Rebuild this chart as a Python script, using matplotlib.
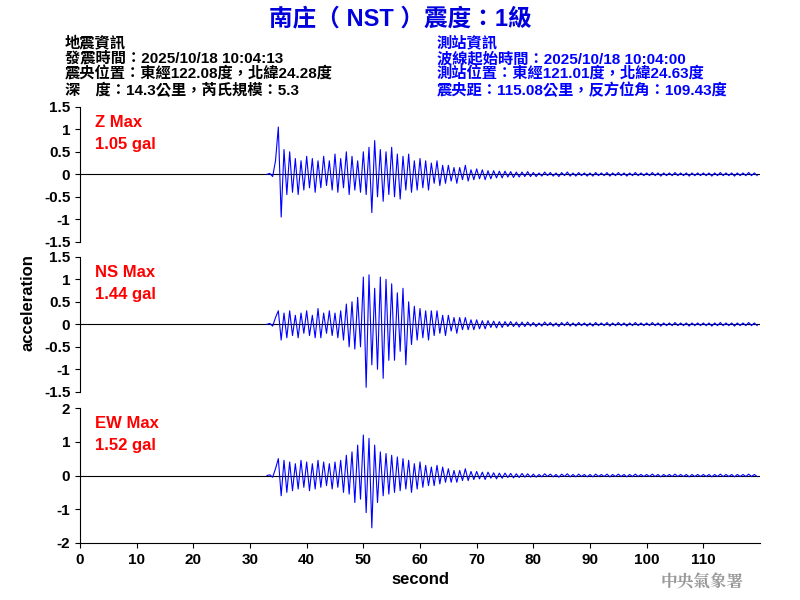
import numpy as np
import matplotlib
matplotlib.use("Agg")
import matplotlib.pyplot as plt

plt.rcParams['font.family'] = ['Liberation Sans', 'Noto Sans CJK TC', 'DejaVu Sans']
plt.rcParams['font.weight'] = 'bold'
plt.rcParams['axes.labelweight'] = 'bold'

t_start = 33.0
step = 0.5

z_active = [0, 0.02, -0.05, 0.3,
            1.05, -0.95, 0.55, -0.45, 0.5, -0.4, 0.35, -0.45, 0.3, -0.35,
            0.4, -0.3, 0.35, -0.4, 0.3, -0.3, 0.4, -0.25, 0.3, -0.35,
            0.45, -0.4, 0.35, -0.3, 0.5, -0.45, 0.4, -0.35, 0.3, -0.4,
            0.5, -0.45, 0.6, -0.85, 0.75, -0.5, 0.55, -0.6, 0.5, -0.45,
            0.6, -0.5, 0.45, -0.55, 0.4, -0.35, 0.45, -0.4, 0.3, -0.35,
            0.35, -0.3, 0.3, -0.35, 0.25, -0.2, 0.3, -0.25, 0.2, -0.2,
            0.2, -0.15, 0.15, -0.2, 0.15, -0.12, 0.2, -0.15, 0.1, -0.12,
            0.12, -0.1, 0.1, -0.12, 0.08, -0.1, 0.08, -0.08, 0.07, -0.08,
            0.07, -0.06, 0.06, -0.07, 0.05, -0.06, 0.05, -0.05, 0.06, -0.05]

ns_active = [0, 0.02, -0.04, 0.15,
             0.3, -0.35, 0.25, -0.3, 0.3, -0.25, 0.2, -0.3, 0.25, -0.2,
             0.3, -0.25, 0.2, -0.3, 0.35, -0.3, 0.25, -0.2, 0.3, -0.25,
             0.25, -0.3, 0.3, -0.35, 0.45, -0.5, 0.5, -0.55, 0.6, -0.5,
             1.05, -1.4, 1.1, -0.9, 0.8, -1.0, 1.05, -1.2, 1.0, -0.8,
             0.9, -0.8, 0.7, -0.6, 0.8, -0.9, 0.5, -0.45, 0.4, -0.35,
             0.35, -0.3, 0.3, -0.35, 0.3, -0.25, 0.3, -0.2, 0.2, -0.25,
             0.2, -0.15, 0.15, -0.2, 0.15, -0.12, 0.15, -0.12, 0.1, -0.12,
             0.1, -0.1, 0.08, -0.1, 0.08, -0.07, 0.07, -0.08, 0.06, -0.07,
             0.06, -0.05, 0.06, -0.05, 0.05, -0.06, 0.05, -0.05, 0.05, -0.04]

ew_active = [0, 0.02, -0.05, 0.2,
             0.5, -0.6, 0.45, -0.5, 0.4, -0.45, 0.35, -0.4, 0.45, -0.35,
             0.4, -0.45, 0.35, -0.4, 0.45, -0.35, 0.4, -0.3, 0.35, -0.4,
             0.4, -0.35, 0.45, -0.5, 0.6, -0.55, 0.7, -0.8, 0.9, -0.7,
             1.2, -1.1, 1.1, -1.55, 0.9, -0.8, 0.7, -0.6, 0.65, -0.55,
             0.6, -0.5, 0.55, -0.45, 0.5, -0.4, 0.45, -0.5, 0.35, -0.4,
             0.4, -0.35, 0.3, -0.3, 0.25, -0.3, 0.3, -0.25, 0.25, -0.2,
             0.2, -0.2, 0.15, -0.2, 0.15, -0.15, 0.2, -0.15, 0.12, -0.12,
             0.12, -0.1, 0.1, -0.12, 0.1, -0.08, 0.08, -0.1, 0.07, -0.08,
             0.07, -0.06, 0.06, -0.07, 0.05, -0.06, 0.06, -0.05, 0.05, -0.05]

tail = [0.04, -0.05, 0.03, -0.04, 0.05, -0.03, 0.04, -0.04, 0.03, -0.05,
        0.04, -0.03, 0.05, -0.04, 0.03, -0.04, 0.04, -0.03, 0.03, -0.04,
        0.03, -0.04, 0.04, -0.03, 0.03, -0.03, 0.04, -0.04, 0.03, -0.03,
        0.04, -0.03, 0.03, -0.04, 0.03, -0.03, 0.04, -0.03, 0.03, -0.03,
        0.03, -0.03, 0.04, -0.03, 0.03, -0.04, 0.03, -0.03, 0.03, -0.03,
        0.04, -0.03, 0.03, -0.03, 0.03, -0.04, 0.03, -0.03, 0.03, -0.03,
        0.03, -0.03, 0.03, -0.04, 0.03, -0.03, 0.04, -0.03, 0.03, -0.03,
        0.03, -0.04, 0.03, -0.03, 0.03, -0.03, 0.04, -0.03, 0.03, -0.03]

channels = ["Z Max", "NS Max", "EW Max"]
max_vals = ["1.05 gal", "1.44 gal", "1.52 gal"]
traces = [z_active + tail, ns_active + tail, ew_active + tail]
ylims = [1.5, 1.5, 2]
yticks = [[1.5, 1, 0.5, 0, -0.5, -1, -1.5], [1.5, 1, 0.5, 0, -0.5, -1, -1.5], [2, 1, 0, -1, -2]]

fig = plt.figure(figsize=(8, 6), dpi=100)
bottoms = [0.597, 0.347, 0.095]
for i in range(3):
    ax = fig.add_axes([0.1, bottoms[i], 0.85, 0.225])
    y = np.array(traces[i])
    t = t_start + step * np.arange(len(y))
    ax.axhline(0, color='black', lw=0.8)
    ax.plot(t, y, color='blue', lw=0.8)
    ax.set_xlim(0, 120)
    ax.set_ylim(-ylims[i], ylims[i])
    ax.set_yticks(yticks[i])
    ax.set_yticklabels([f"{v:g}" for v in yticks[i]])
    for s in ['top', 'right']:
        ax.spines[s].set_visible(False)
    ax.tick_params(labelsize=11)
    ax.text(0.022, 0.94, channels[i], transform=ax.transAxes, color='red', fontsize=12, va='top')
    ax.text(0.022, 0.78, max_vals[i], transform=ax.transAxes, color='red', fontsize=12, va='top')
    if i < 2:
        ax.spines['bottom'].set_visible(False)
        ax.set_xticks([])
    else:
        ax.set_xticks(range(0, 120, 10))
        ax.set_xlabel("second", fontsize=12)

fig.text(0.035, 0.495, "acceleration", rotation=90, ha='center', va='center', fontsize=12)

fig.text(0.5, 0.968, "南庄（ NST ）震度：1級", ha='center', va='center', color='#0000dd',
         fontsize=17, fontweight='bold')
left_info = ["地震資訊", "發震時間：2025/10/18 10:04:13", "震央位置：東經122.08度，北緯24.28度",
             "深　度：14.3公里，芮氏規模：5.3"]
right_info = ["測站資訊", "波線起始時間：2025/10/18 10:04:00", "測站位置：東經121.01度，北緯24.63度",
              "震央距：115.08公里，反方位角：109.43度"]
for k in range(4):
    yy = 1 - (43 + 15.7 * k) / 600
    fig.text(0.081, yy, left_info[k], color='black', fontsize=11, va='center')
    fig.text(0.546, yy, right_info[k], color='blue', fontsize=11, va='center')

fig.text(0.93, 0.03, "中央氣象署", color='#999999', fontsize=12, ha='right', va='center',
         family=['Noto Serif CJK TC', 'Noto Sans CJK TC'], fontweight='bold')

fig.savefig("out.png", dpi=100)
